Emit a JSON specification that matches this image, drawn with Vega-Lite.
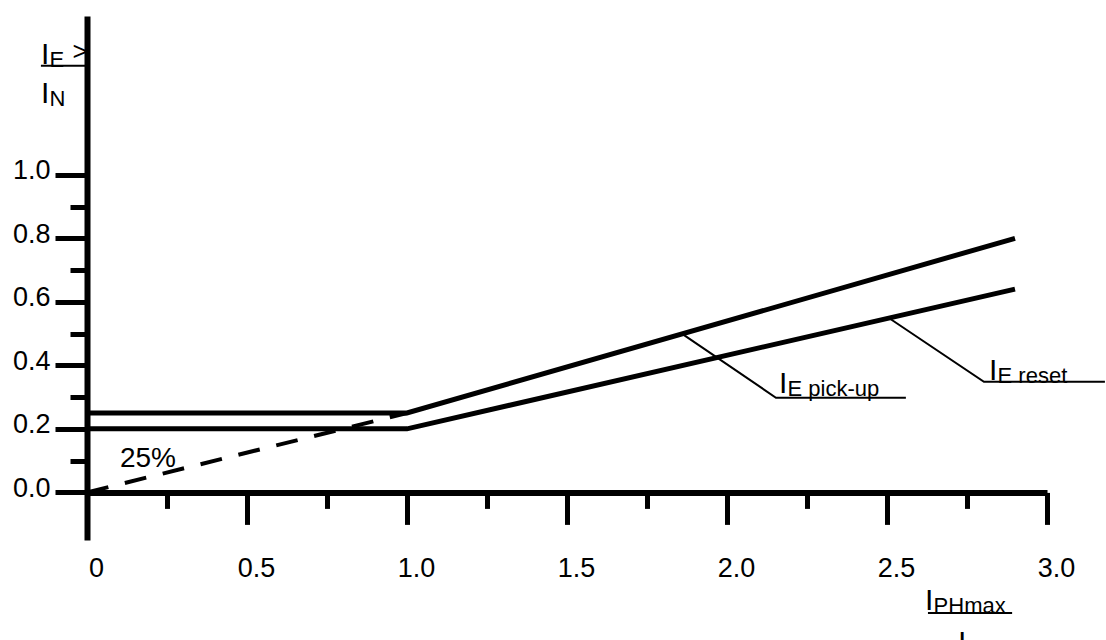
{
  "$schema": "https://vega.github.io/schema/vega-lite/v6.json",
  "autosize": {"type": "none"},
  "padding": {"left": 87, "top": 16, "right": 59, "bottom": 100},
  "width": 960,
  "height": 524,
  "background": "white",
  "config": {
    "view": {"stroke": null},
    "font": "Liberation Sans",
    "text": {"font": "Liberation Sans", "color": "black"}
  },
  "datasets": {
    "curves": [
      {"curve": "pick-up", "x": 0, "y": 0.25},
      {"curve": "pick-up", "x": 1.0, "y": 0.25},
      {"curve": "pick-up", "x": 2.9, "y": 0.8},
      {"curve": "reset", "x": 0, "y": 0.2},
      {"curve": "reset", "x": 1.0, "y": 0.2},
      {"curve": "reset", "x": 2.9, "y": 0.64}
    ],
    "slope": [
      {"x": 0, "y": 0},
      {"x": 1.0, "y": 0.25}
    ],
    "leaders": [
      {"leader": "pick-up", "k": 0, "x": 1.86, "y": 0.499},
      {"leader": "pick-up", "k": 1, "x": 2.153, "y": 0.298},
      {"leader": "pick-up", "k": 2, "x": 2.559, "y": 0.298},
      {"leader": "reset", "k": 0, "x": 2.506, "y": 0.549},
      {"leader": "reset", "k": 1, "x": 2.803, "y": 0.348},
      {"leader": "reset", "k": 2, "x": 3.181, "y": 0.348}
    ],
    "bars": [
      {"x": -0.144, "x2": 0, "y": 1.343},
      {"x": 2.628, "x2": 2.891, "y": -0.38}
    ],
    "symbols": [
      {"x": -0.144, "y": 1.35, "main": "I", "sub": "E"},
      {"x": -0.144, "y": 1.227, "main": "I", "sub": "N"},
      {"x": 2.1625, "y": 0.313, "main": "I", "sub": "E pick-up"},
      {"x": 2.819, "y": 0.354, "main": "I", "sub": "E reset"},
      {"x": 2.619, "y": -0.37, "main": "I", "sub": "PHmax"},
      {"x": 2.722, "y": -0.502, "main": "I", "sub": "N"}
    ]
  },
  "encoding": {
    "x": {
      "field": "x",
      "type": "quantitative",
      "scale": {"domain": [0, 3], "nice": false, "zero": false},
      "axis": {
        "title": null,
        "values": [0, 0.25, 0.5, 0.75, 1.0, 1.25, 1.5, 1.75, 2.0, 2.25, 2.5, 2.75, 3.0],
        "labelExpr": "round(datum.value*4)%2===0 ? (datum.value===0 ? '0' : format(datum.value, '.1f')) : ''",
        "offset": -47.6,
        "grid": false,
        "domainColor": "black",
        "domainWidth": 6,
        "tickColor": "black",
        "tickWidth": 5,
        "tickSize": {"condition": {"test": "round(datum.value*4)%2===0", "value": 32}, "value": 16},
        "labelFont": "Liberation Sans",
        "labelFontSize": 27,
        "labelColor": "black",
        "labelPadding": 31,
        "labelOffset": 9,
        "labelFlush": false,
        "labelOverlap": false
      }
    },
    "y": {
      "field": "y",
      "type": "quantitative",
      "scale": {"domain": [-0.15, 1.5], "nice": false, "zero": false},
      "axis": {
        "title": null,
        "values": [0, 0.1, 0.2, 0.3, 0.4, 0.5, 0.6, 0.7, 0.8, 0.9, 1.0],
        "labelExpr": "round(datum.value*10)%2===0 ? format(datum.value, '.1f') : ''",
        "grid": false,
        "domainColor": "black",
        "domainWidth": 6,
        "tickColor": "black",
        "tickWidth": 5,
        "tickSize": {"condition": {"test": "round(datum.value*10)%2===0", "value": 32}, "value": 17},
        "labelFont": "Liberation Sans",
        "labelFontSize": 27,
        "labelColor": "black",
        "labelPadding": 5,
        "labelOffset": -4,
        "labelFlush": false,
        "labelOverlap": false
      }
    }
  },
  "layer": [
    {
      "data": {"name": "curves"},
      "mark": {"type": "line", "color": "black", "strokeWidth": 5, "strokeJoin": "miter", "strokeCap": "butt"},
      "encoding": {"detail": {"field": "curve"}}
    },
    {
      "data": {"name": "slope"},
      "mark": {"type": "line", "color": "black", "strokeWidth": 4, "strokeDash": [22, 17], "strokeCap": "butt"},
      "encoding": {}
    },
    {
      "data": {"name": "leaders"},
      "mark": {"type": "line", "color": "black", "strokeWidth": 2},
      "encoding": {"detail": {"field": "leader"}, "order": {"field": "k"}}
    },
    {
      "data": {"name": "bars"},
      "mark": {"type": "rule", "color": "black", "strokeWidth": 2},
      "encoding": {"x2": {"field": "x2"}}
    },
    {
      "data": {"name": "symbols"},
      "mark": {"type": "text", "fontSize": 30, "align": "left", "baseline": "alphabetic", "font": "Liberation Sans"},
      "encoding": {"text": {"field": "main"}}
    },
    {
      "data": {"name": "symbols"},
      "mark": {"type": "text", "fontSize": 22, "align": "left", "baseline": "alphabetic", "dx": 8.5, "dy": 3, "font": "Liberation Sans"},
      "encoding": {"text": {"field": "sub"}}
    },
    {
      "data": {"values": [{"x": 0.103, "y": 0.08, "label": "25%"}]},
      "mark": {"type": "text", "fontSize": 28, "align": "left", "baseline": "alphabetic", "font": "Liberation Sans"},
      "encoding": {"text": {"field": "label"}}
    },
    {
      "data": {"values": [{"x": -0.045, "y": 1.362, "label": ">"}]},
      "mark": {"type": "text", "fontSize": 26, "align": "left", "baseline": "alphabetic", "font": "Liberation Sans"},
      "encoding": {"text": {"field": "label"}}
    }
  ]
}
